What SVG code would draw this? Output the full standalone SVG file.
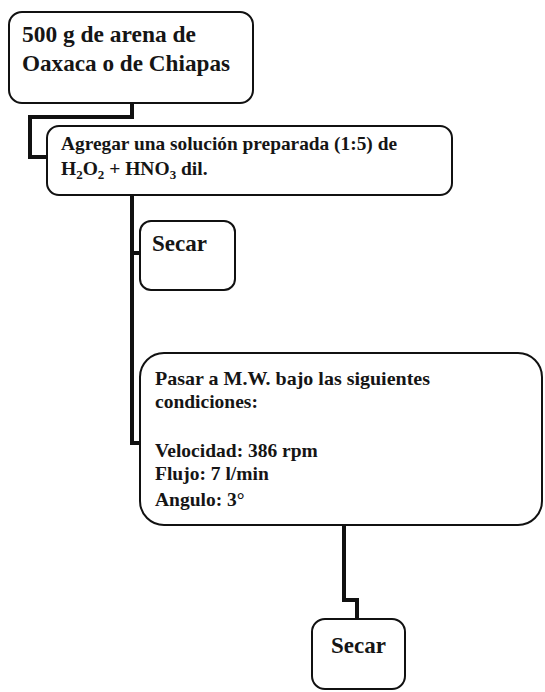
<svg xmlns="http://www.w3.org/2000/svg" width="545" height="692" viewBox="0 0 545 692">
<style>
.box{fill:#fff;stroke:#111;stroke-width:2}
.t{font-family:"Liberation Serif","Times New Roman",serif;font-weight:bold;fill:#151515}
.t1{font-size:23px}
.t2{font-size:19.5px}
.t3{font-size:23px}
.sub{font-size:13px}
.c{fill:none;stroke:#111;stroke-width:4;stroke-linejoin:miter}
</style>
<rect width="545" height="692" fill="#fff"/>
<g id="connectors">
<polyline class="c" points="132,103 132,117 30,117 30,157 47,157"/>
<polyline class="c" points="132,195 132,443 141,443"/>
<polyline class="c" points="132,253 141,253"/>
<polyline class="c" points="344,525 344,600 357,600 357,619"/>
</g>
<g id="node1">
<rect class="box" x="9" y="12" width="244" height="91" rx="13"/>
<text class="t t1" x="22" y="42" textLength="174" lengthAdjust="spacingAndGlyphs">500 g de arena de</text>
<text class="t t1" x="22" y="71" textLength="208" lengthAdjust="spacingAndGlyphs">Oaxaca o de Chiapas</text>
</g>
<g id="node2">
<rect class="box" x="47" y="126" width="405" height="69" rx="12"/>
<text class="t t2" x="61" y="150" textLength="336" lengthAdjust="spacingAndGlyphs">Agregar una solución preparada (1:5) de</text>
<text class="t t2" x="61" y="175">H<tspan class="sub" dy="4">2</tspan><tspan dy="-4">O</tspan><tspan class="sub" dy="4">2</tspan><tspan dy="-4"> + HNO</tspan><tspan class="sub" dy="4">3</tspan><tspan dy="-4"> dil.</tspan></text>
</g>
<g id="node3">
<rect class="box" x="140" y="221" width="95" height="69" rx="11"/>
<text class="t t3" x="152" y="251">Secar</text>
</g>
<g id="node4">
<rect class="box" x="140" y="353" width="402" height="172" rx="24"/>
<text class="t t2" x="155" y="385" textLength="275" lengthAdjust="spacingAndGlyphs">Pasar a M.W. bajo las siguientes</text>
<text class="t t2" x="155" y="408">condiciones:</text>
<text class="t t2" x="155" y="457">Velocidad: 386 rpm</text>
<text class="t t2" x="155" y="480">Flujo: 7 l/min</text>
<text class="t t2" x="155" y="506">Angulo: 3°</text>
</g>
<g id="node5">
<rect class="box" x="312" y="619" width="93" height="70" rx="13"/>
<text class="t t3" x="331" y="653">Secar</text>
</g>
</svg>
